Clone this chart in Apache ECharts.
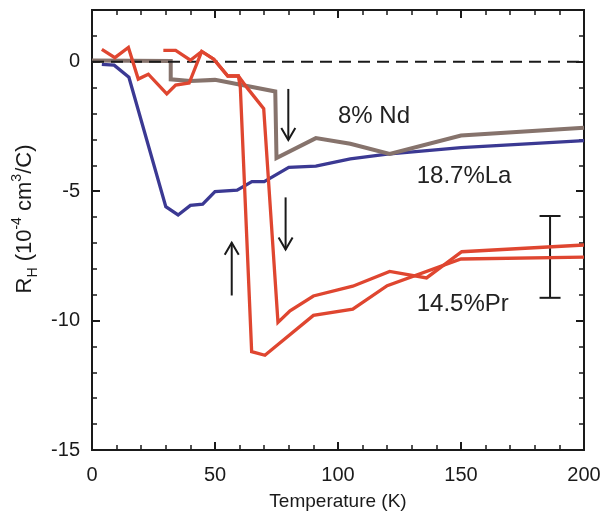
<!DOCTYPE html>
<html>
<head>
<meta charset="utf-8">
<script src="https://cdn.jsdelivr.net/npm/echarts@6/dist/echarts.min.js"></script>
<style>
  html, body { margin: 0; padding: 0; background: #ffffff; }
  #chart { width: 605px; height: 516px; }
</style>
</head>
<body>
<div id="chart"></div>
<script>
// Hall coefficient R_H vs temperature for three doped samples.
const FONT = '"Liberation Sans", Arial, Helvetica, sans-serif';

// x axis range (K) and y axis range (10^-4 cm^3/C)
const tempRange = [0, 200];
const rhRange = [-15, 2];

// 18.7% La
const la187 = [
  [4, -0.1], [9, -0.13], [15, -0.6], [30, -5.6], [35, -5.92], [40, -5.55],
  [45, -5.5], [50, -5.02], [59, -4.96], [65, -4.63], [70, -4.63], [80, -4.08],
  [91, -4.03], [105, -3.75], [120, -3.57], [150, -3.32], [200, -3.05]
];

// 8% Nd
const nd8 = [
  [0, 0.05], [32, 0.03], [32, -0.68], [40, -0.74], [50, -0.7], [74.5, -1.15],
  [75, -3.72], [91, -2.95], [105, -3.17], [121, -3.56], [150, -2.85], [200, -2.55]
];

// 14.5% Pr, lower branch of the loop
const pr145a = [
  [4, 0.48], [9.3, 0.16], [14.8, 0.55], [18.8, -0.67], [22.9, -0.48], [30.4, -1.24],
  [34, -0.9], [39.5, -0.82], [44.6, 0.4], [49.5, 0.1], [55.2, -0.55], [59.5, -0.55],
  [60.3, -1.0], [64.9, -11.2], [70.3, -11.34], [90, -9.8], [106, -9.56],
  [120, -8.65], [150, -7.62], [200, -7.55]
];

// 14.5% Pr, upper branch of the loop
const pr145b = [
  [29, 0.44], [34, 0.44], [40, 0.06], [44.6, 0.4], [49.5, 0.1], [55.2, -0.55],
  [59.5, -0.55], [63, -1.0], [69.8, -1.81], [75.6, -10.07], [80.5, -9.62],
  [90, -9.05], [106, -8.67], [121, -8.1], [136, -8.35], [150.3, -7.34], [200, -7.08]
];

// zero reference
const zeroLine = [[0, 0], [200, 0]];

// sweep-direction arrows: [T, tail R, head R]
const arrows = [
  [79.8, -1.05, -3.02],
  [78.7, -5.24, -7.25],
  [56.8, -9.03, -6.99]
];

// representative error bar: [T, upper R, lower R]
const errorBars = [[186.2, -5.96, -9.12]];

// series labels: [T, R, text]
const seriesLabels = [
  [100, -2.12, '8% Nd'],
  [132, -4.43, '18.7%La'],
  [132, -9.38, '14.5%Pr']
];

const C_BLUE = '#3b3993';
const C_GRAY = '#86736c';
const C_RED = '#df4630';
const INK = '#1a1a1a';

const chart = echarts.init(document.getElementById('chart'));

const axisLine = { show: true, onZero: false, lineStyle: { color: INK, width: 2 } };

function xAxisDef(pos, labels) {
  return {
    type: 'value', position: pos, min: tempRange[0], max: tempRange[1], interval: 50,
    axisLine,
    axisTick: { show: true, inside: true, length: 8, lineStyle: { color: INK, width: 2 } },
    minorTick: { show: true, splitNumber: 5, length: 5, lineStyle: { color: INK, width: 1.5 } },
    splitLine: { show: false },
    axisLabel: labels ? { show: true, margin: 15, color: INK, fontSize: 20, fontFamily: FONT } : { show: false },
    name: labels ? 'Temperature (K)' : '',
    nameLocation: 'middle', nameGap: 42,
    nameTextStyle: { color: INK, fontSize: 19, fontFamily: FONT }
  };
}

function yAxisDef(pos, interval, len, width, labels) {
  const ax = {
    type: 'value', position: pos, min: rhRange[0], max: rhRange[1], interval,
    axisLine,
    axisTick: { show: true, inside: true, length: len, lineStyle: { color: INK, width } },
    splitLine: { show: false },
    axisLabel: labels ? {
      show: true, margin: 12, color: INK, fontSize: 20, fontFamily: FONT,
      padding: [6, 0, 0, 0],
      formatter: v => (v % 5 === 0 ? String(v) : '')
    } : { show: false }
  };
  if (labels) {
    ax.name = '{b|R}{sub|H}{b| (10}{sup|-4}{b| cm}{sup|3}{b|/C)}';
    ax.nameLocation = 'middle';
    ax.nameGap = 52;
    ax.nameRotate = 90;
    ax.nameTextStyle = {
      color: INK, fontFamily: FONT,
      padding: [0, 0, 0, 22],
      rich: {
        b: { fontSize: 22, fontFamily: FONT, color: INK, lineHeight: 30, verticalAlign: 'middle' },
        sub: { fontSize: 14, fontFamily: FONT, color: INK, lineHeight: 30, verticalAlign: 'bottom' },
        sup: { fontSize: 14, fontFamily: FONT, color: INK, lineHeight: 30, verticalAlign: 'top' }
      }
    };
  }
  return ax;
}

function lineSeries(data, color, width, extra) {
  return Object.assign({
    type: 'line', data, showSymbol: false, symbol: 'none', animation: false,
    xAxisIndex: 0, yAxisIndex: 0,
    lineStyle: { color, width, join: 'miter' }
  }, extra || {});
}

const option = {
  backgroundColor: '#ffffff',
  animation: false,
  grid: { left: 92, right: 21, top: 10, bottom: 60, containLabel: false },
  xAxis: [xAxisDef('bottom', true), xAxisDef('top', false)],
  yAxis: [
    yAxisDef('left', 5, 8, 2, true),
    yAxisDef('left', 1, 5, 1.5, false),
    yAxisDef('right', 5, 8, 2, false),
    yAxisDef('right', 1, 5, 1.5, false)
  ],
  series: [
    lineSeries(la187, C_BLUE, 3.3),
    lineSeries(nd8, C_GRAY, 4),
    lineSeries(zeroLine, INK, 2, { lineStyle: { color: INK, width: 2, type: [12, 7] } }),
    lineSeries(pr145a, C_RED, 3.3),
    lineSeries(pr145b, C_RED, 3.3),
    {
      type: 'custom', animation: false, xAxisIndex: 0, yAxisIndex: 0, data: arrows,
      renderItem(params, api) {
        const t = api.coord([api.value(0), api.value(1)]);
        const h = api.coord([api.value(0), api.value(2)]);
        const dir = h[1] > t[1] ? 1 : -1;
        const style = { stroke: INK, lineWidth: 2, fill: null };
        return {
          type: 'group',
          children: [
            { type: 'line', shape: { x1: t[0], y1: t[1], x2: h[0], y2: h[1] }, style },
            { type: 'polyline', shape: { points: [[h[0] - 7, h[1] - dir * 12], [h[0], h[1]], [h[0] + 7, h[1] - dir * 12]] }, style }
          ]
        };
      }
    },
    {
      type: 'custom', animation: false, xAxisIndex: 0, yAxisIndex: 0, data: errorBars,
      renderItem(params, api) {
        const a = api.coord([api.value(0), api.value(1)]);
        const b = api.coord([api.value(0), api.value(2)]);
        const style = { stroke: INK, lineWidth: 2 };
        return {
          type: 'group',
          children: [
            { type: 'line', shape: { x1: a[0], y1: a[1], x2: b[0], y2: b[1] }, style },
            { type: 'line', shape: { x1: a[0] - 10.5, y1: a[1], x2: a[0] + 10.5, y2: a[1] }, style },
            { type: 'line', shape: { x1: b[0] - 10.5, y1: b[1], x2: b[0] + 10.5, y2: b[1] }, style }
          ]
        };
      }
    },
    {
      type: 'custom', animation: false, xAxisIndex: 0, yAxisIndex: 0,
      data: seriesLabels.map(d => ({ value: [d[0], d[1]], name: d[2] })),
      renderItem(params, api) {
        const p = api.coord([api.value(0), api.value(1)]);
        return {
          type: 'text', x: p[0], y: p[1],
          style: {
            text: seriesLabels[params.dataIndex][2],
            fill: '#222222', fontSize: 24, fontFamily: FONT,
            align: 'left', verticalAlign: 'middle'
          }
        };
      }
    }
  ]
};

chart.setOption(option);
</script>
</body>
</html>
